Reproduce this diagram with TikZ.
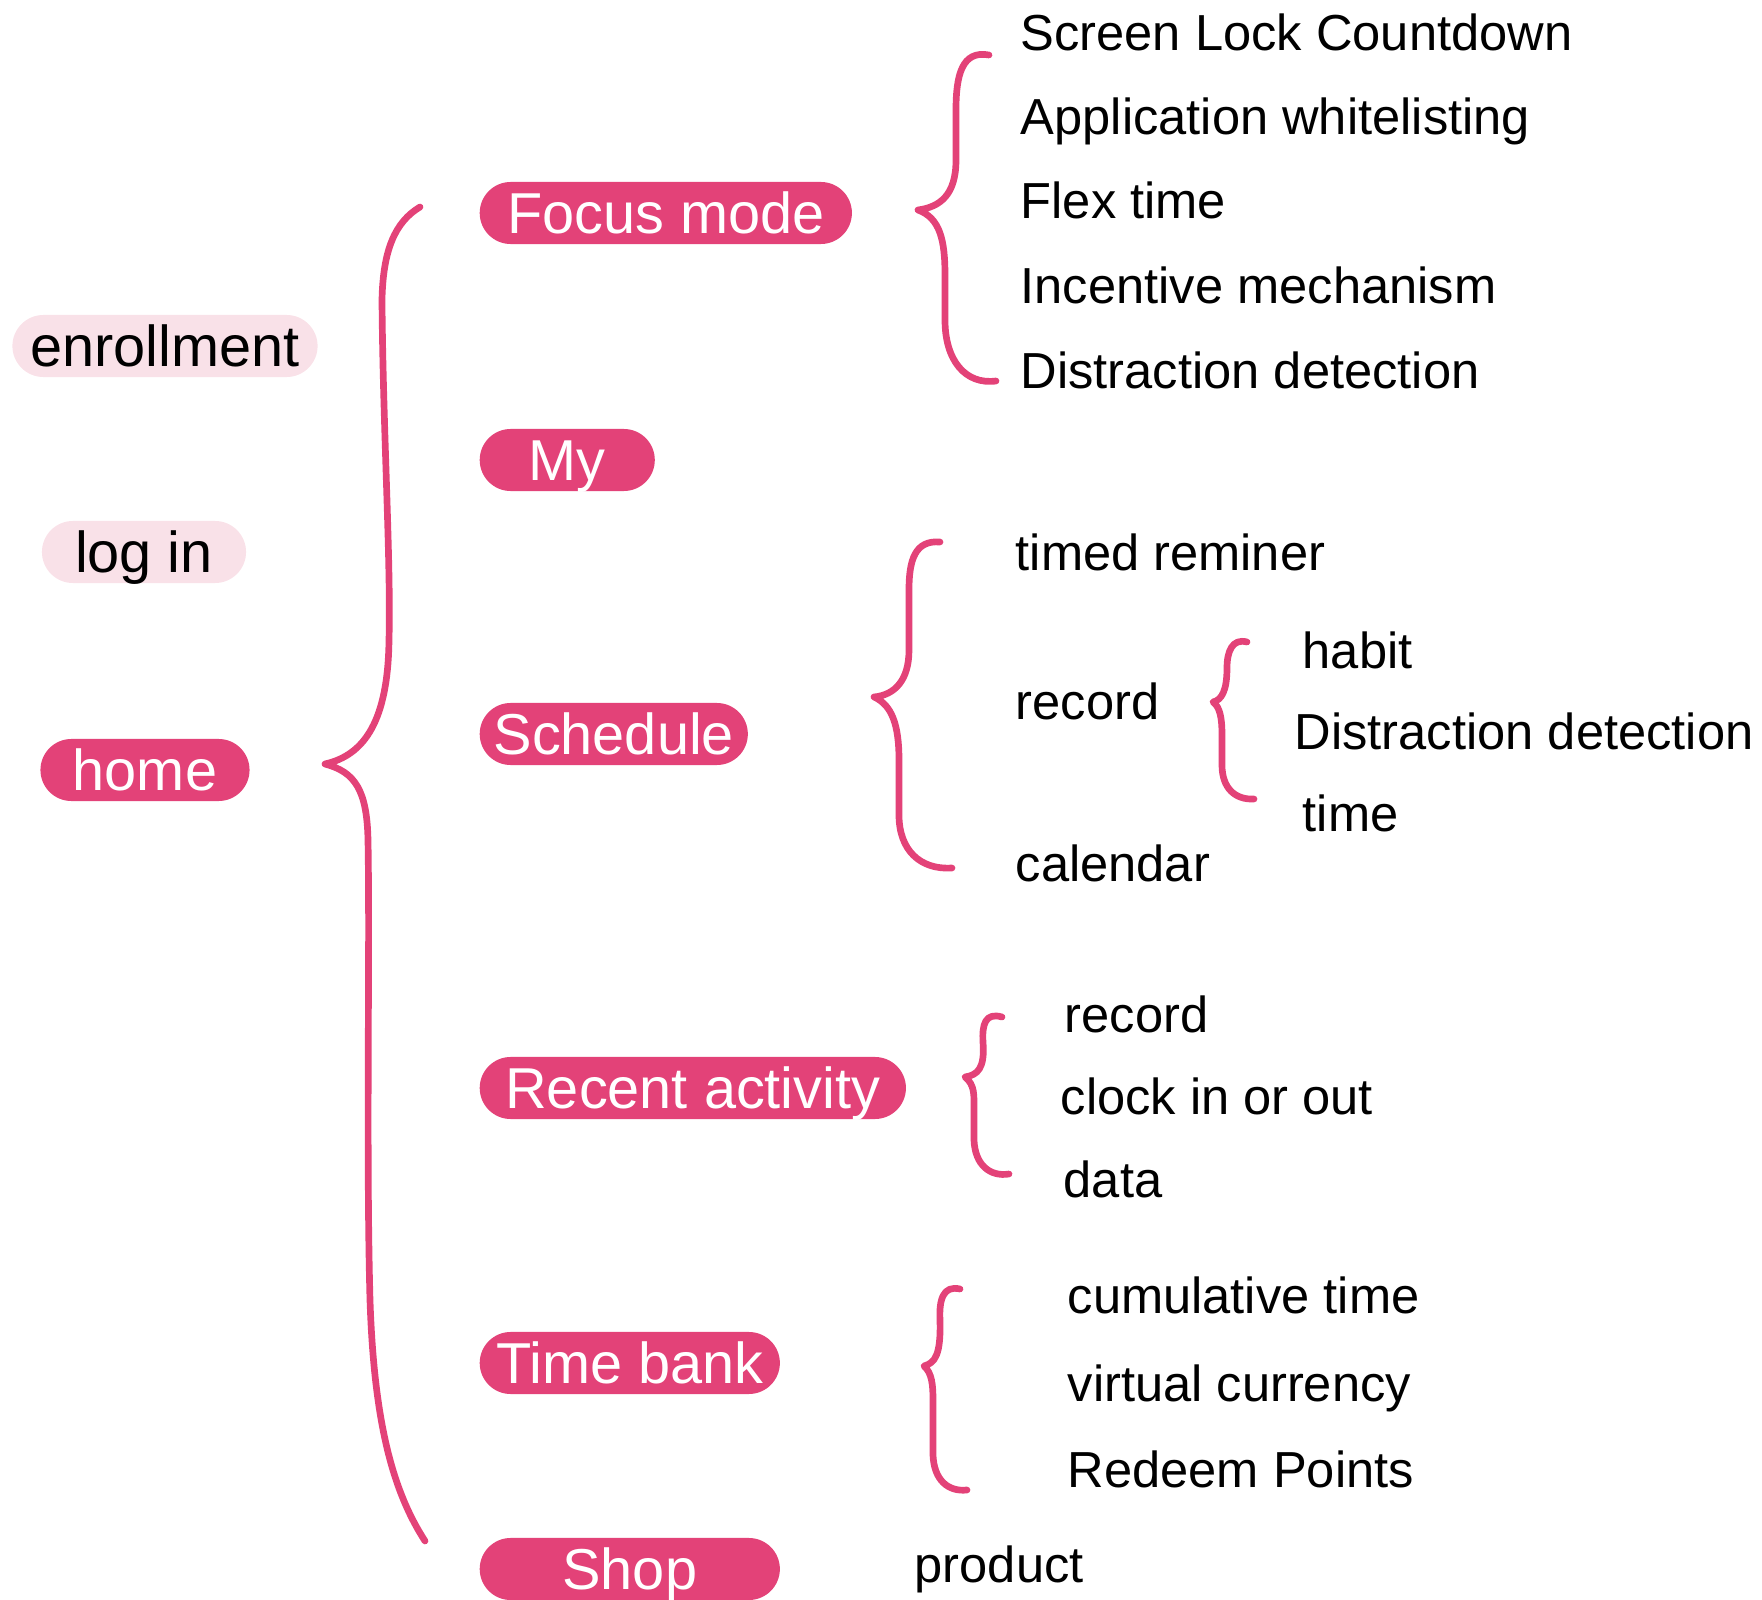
\documentclass[tikz,border=0pt]{standalone}
\usepackage{fontspec}
\setmainfont{Liberation Sans}
\definecolor{mindpink}{RGB}{227, 66, 120}
\definecolor{softpink}{RGB}{249, 225, 232}
\usetikzlibrary{positioning}

\begin{document}
\begin{tikzpicture}[x=0.01cm, y=-0.01cm,
  pill/.style={fill=mindpink, text=white, rounded corners=0.31cm, minimum height=0.62cm,
    inner sep=0pt, text height=0.412cm, text depth=0pt, font=\fontsize{16.4}{19}\selectfont},
  startpill/.style={pill, fill=softpink, text=black},
  leaf/.style={anchor=base west, inner sep=0pt, font=\fontsize{14.4}{17}\selectfont},
  brace/.style={draw=mindpink, line width=1.9pt, line cap=round, line join=round}]
  \useasboundingbox (0,0) rectangle (1762,1600);

  % Entry pages
  \node[startpill, minimum width=3.05cm] (enroll) at (165,346) {enrollment};
  \node[startpill, minimum width=2.04cm] (login) at (144,552) {log in};
  \node[pill, minimum width=2.09cm] (home) at (145,770) {home};

  % Home tabs
  \node[pill, anchor=west, minimum width=3.72cm] (focus) at (479,213) {Focus mode};
  \node[pill, anchor=west, minimum width=1.75cm] (my) at (479,460) {My};
  \node[pill, anchor=west, minimum width=2.68cm] (schedule) at (479,734) {Schedule};
  \node[pill, anchor=west, minimum width=4.26cm] (recent) at (479,1088) {Recent activity};
  \node[pill, anchor=west, minimum width=3.0cm] (timebank) at (479,1363) {Time bank};
  \node[pill, anchor=west, minimum width=3.0cm] (shop) at (479,1569) {Shop};

  \draw[brace] (420,207) .. controls (395,222) and (383,250) .. (382,300)
    .. controls (383,430) and (391,560) .. (389,640)
    .. controls (388,720) and (365,755) .. (325,764)
    .. controls (355,772) and (367,790) .. (368,840)
    .. controls (370,950) and (366,1150) .. (370,1300)
    .. controls (374,1420) and (392,1490) .. (425,1541);

  % Focus mode
  \node[leaf] (lock) at (1020,51) {Screen Lock Countdown};
  \node[leaf] (whitelist) at (1020,135) {Application whitelisting};
  \node[leaf] (flex) at (1020,219) {Flex time};
  \node[leaf] (incentive) at (1020,304) {Incentive mechanism};
  \node[leaf] (distract) at (1020,389) {Distraction detection};

  \draw[brace] (989,55) .. controls (962,50) and (956,75) .. (956,110) -- (956,160)
    .. controls (956,195) and (940,207) .. (918,210)
    .. controls (940,218) and (945,240) .. (945,275) -- (945,320)
    .. controls (945,360) and (965,385) .. (996,381);

  % Schedule
  \node[leaf] (reminder) at (1015,571) {timed reminer};
  \node[leaf] (record) at (1015,720) {record};
  \node[leaf] (calendar) at (1015,882) {calendar};
  \node[leaf] (habit) at (1302,669) {habit};
  \node[leaf] (distractrec) at (1294,750) {Distraction detection};
  \node[leaf] (time) at (1302,832) {time};

  \draw[brace] (940,542) .. controls (915,540) and (909,560) .. (909,590) -- (909,650)
    .. controls (909,680) and (895,695) .. (874,697)
    .. controls (892,705) and (899,725) .. (899,760) -- (899,815)
    .. controls (899,850) and (920,870) .. (952,868);
  \draw[brace] (1247,642) .. controls (1232,638) and (1227,652) .. (1227,668)
    .. controls (1227,690) and (1222,700) .. (1213,702)
    .. controls (1220,707) and (1222,718) .. (1222,735) -- (1222,765)
    .. controls (1222,788) and (1235,800) .. (1254,799);

  % Recent activity
  \node[leaf] (recrecord) at (1064,1032) {record};
  \node[leaf] (clock) at (1060,1114) {clock in or out};
  \node[leaf] (data) at (1063,1197) {data};

  \draw[brace] (1002,1017) .. controls (985,1012) and (982,1025) .. (983,1042)
    .. controls (985,1068) and (978,1075) .. (965,1077)
    .. controls (975,1085) and (974,1095) .. (974,1110) -- (974,1140)
    .. controls (975,1165) and (990,1177) .. (1009,1174);

  % Time bank
  \node[leaf] (cumulative) at (1067,1313) {cumulative time};
  \node[leaf] (currency) at (1067,1401) {virtual currency};
  \node[leaf] (redeem) at (1067,1487) {Redeem Points};

  \draw[brace] (960,1289) .. controls (943,1285) and (939,1300) .. (940,1320)
    .. controls (941,1355) and (935,1363) .. (924,1366)
    .. controls (932,1373) and (933,1385) .. (933,1400) -- (933,1455)
    .. controls (934,1480) and (948,1492) .. (967,1490);

  % Shop
  \node[leaf] (product) at (914,1582) {product};
\end{tikzpicture}
\end{document}
